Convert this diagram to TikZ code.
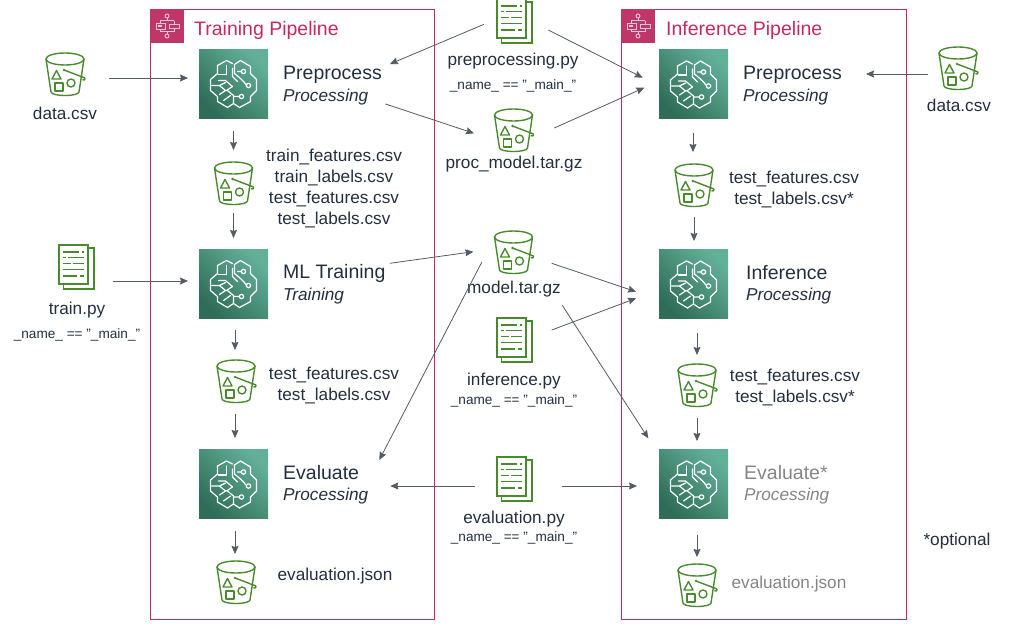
\documentclass[tikz,border=0pt]{standalone}
\usepackage{fontspec}
\setmainfont{Liberation Sans}
\usepackage{xcolor}
\usetikzlibrary{calc,arrows.meta}
\definecolor{frame}{HTML}{C7295F}
\definecolor{pipe}{HTML}{BF3768}
\definecolor{pale}{HTML}{F0C4D4}
\definecolor{bucketgreen}{HTML}{4A8A2E}
\definecolor{darkgreen}{HTML}{2F6D58}
\definecolor{lightgreen}{HTML}{63B098}
\definecolor{ink}{HTML}{232F3E}
\definecolor{faded}{HTML}{858585}
\definecolor{wire}{HTML}{545B64}
\newcommand{\bucketicon}{%
  \begin{scope}[bucketgreen,line width=1.4pt,line join=round]
    \draw (0,-15) ellipse (19 and 6);
    \draw (-19,-15) -- (-14,18) arc[start angle=180,end angle=0,x radius=14,y radius=3.5] -- (19,-15);
    \draw (-13,5) -- (-8.5,-3.5) -- (-4,5) -- cycle;
    \draw (-10,9) rectangle (-2,17);
    \draw (6,9) circle (4);
    \draw (-1,-4) -- (20,4);
    \fill (-1,-4) circle (1.4);
    \draw (20,4) arc[start angle=-30,end angle=150,radius=1.5];
  \end{scope}
}
\newcommand{\scripticon}{%
  \begin{scope}[bucketgreen,line width=1.4pt]
    \draw (11.5,-19) -- (17.5,-19) -- (17.5,22) -- (-13,22) -- (-13,17);
    \draw (-17.5,-22) rectangle (11.5,17);
    \draw (-13.8,-15) -- (2,-15) (5,-15) -- (7,-15);
    \draw (-13.8,-9.3) -- (-11,-9.3) (-8.5,-9.3) -- (7,-9.3);
    \draw (-13.8,-3.3) -- (-6,-3.3) (-3.8,-3.3) -- (7,-3.3);
    \draw (-13.8,2.7) -- (7,2.7);
    \draw (-13.8,9) -- (.5,9) (3.8,9) -- (7,9);
  \end{scope}
}
\newcommand{\brainicon}{%
  \begin{scope}[white,line width=1.2pt,line join=round,line cap=round]
    \draw (1,-10) -- (1,-19) -- (7,-23) -- (17,-17) -- (17,-10) -- (23,-4) -- (23,7) -- (17,13) -- (17,18) -- (6,24) -- (0,20);
    \draw (-1,-20) -- (-7,-23) -- (-16,-18) -- (-16,-10) -- (-23,-4) -- (-23,7) -- (-16,13) -- (-16,18) -- (-6,24) -- (0,20) -- (0,12) -- (-6,7);
    \draw (1,-10) -- (7,-5) -- (11,-1) -- (12.2,1);
    \draw (10,-12) circle (2.2) (7.8,-12) -- (4,-12);
    \draw (15,2) circle (2.2);
    \draw (8,13) circle (2.2) (5.8,13) -- (0,13);
    \draw (-7,-18) -- (-7,-9) -- (-15,-9);
    \draw (-1,-15) -- (-1,-7) -- (4,-2);
    \draw (-15,-3) -- (-8,-3) -- (-1,3) -- (-7,7);
    \draw (-22,2) -- (-14,2) -- (-8,-1);
    \draw (-14,2) -- (-8,7) -- (-14,11);
    \draw (-10,17) -- (-3,12);
  \end{scope}
}
\newcommand{\flowicon}{%
  \begin{scope}[pale,line width=0.9pt]
    \draw (0,-10) circle (2) (0,10) circle (2);
    \draw (0,-8) -- (0,-5.5) (-7,-5.5) -- (7,-5.5) (-7,-5.5) -- (-7,-3) (7,-5.5) -- (7,-2);
    \draw (-11,-3) rectangle (-2,3) (2,-2) rectangle (12,2);
    \draw (-7,3) -- (-7,5.5) -- (7,5.5) -- (7,2) (0,5.5) -- (0,8);
    \fill (-9,-1) rectangle (-5,1);
  \end{scope}
}
\tikzset{
  lab/.style={text=ink, font=\fontsize{17.2}{20}\selectfont, inner sep=0pt, align=center},
  labm/.style={lab, font=\fontsize{13.6}{16}\selectfont},
  stepname/.style={text=ink, font=\fontsize{19.5}{22}\selectfont, inner sep=0pt, anchor=west},
  stepkind/.style={text=ink, font=\fontsize{17.2}{20}\selectfont\itshape, inner sep=0pt, anchor=west},
  box/.style={draw=frame, line width=0.9pt, inner sep=0pt},
  title/.style={text=frame, font=\fontsize{19.5}{22}\selectfont, inner sep=0pt, anchor=west},
  brain/.style={minimum size=69pt, inner sep=0pt, left color=darkgreen, right color=lightgreen, shading angle=135,
    path picture={\begin{scope}[shift={(path picture bounding box.center)}]\brainicon\end{scope}}},
  bucket/.style={minimum width=46pt, minimum height=48pt, inner sep=0pt,
    path picture={\begin{scope}[shift={(path picture bounding box.center)}]\bucketicon\end{scope}}},
  script/.style={minimum width=38pt, minimum height=48pt, inner sep=0pt,
    path picture={\begin{scope}[shift={(path picture bounding box.center)}]\scripticon\end{scope}}},
  flow/.style={minimum size=34pt, inner sep=0pt, fill=pipe,
    path picture={\begin{scope}[shift={(path picture bounding box.center)}]\flowicon\end{scope}}},
  arr/.style={draw=wire, line width=0.8pt, -{Stealth[length=8pt,width=7pt,inset=1pt]}},
}
\begin{document}
\begin{tikzpicture}[x=1pt,y=-1pt]
  \useasboundingbox (0,0) rectangle (1031,629);

  % pipeline frames
  \node[box,minimum width=284pt,minimum height=610pt] (train) at (292,314) {};
  \node[box,minimum width=285pt,minimum height=610pt] (infer) at (763.5,314) {};
  \node[flow] (trainflow) at (167,26) {};
  \node[flow] (inferflow) at (638,26) {};
  \node[title] (traintitle) at (194,30) {Training Pipeline};
  \node[title] (infertitle) at (666,30) {Inference Pipeline};

  % steps
  \foreach \name/\x/\y in {tprep/233.5/83.5,tfit/233.5/283.5,teval/233.5/484,iprep/693.5/84,iinf/693.5/284,ieval/693.5/484}
    \node[brain] (\name) at (\x,\y) {};

  % buckets
  \foreach \name/\x/\y in {dataa/65/74,tfeat/233.5/183,ttest/236/381,tjson/236/582,procm/513.5/130,model/513.5/252,ifeat/694/185,itest/697/385,ijson/697/585,datab/958/68}
    \node[bucket] (\name) at (\x,\y) {};

  % scripts
  \foreach \name/\x/\y in {prepy/514.5/21,trainpy/76.5/267,infpy/514.5/340,evalpy/514.5/479}
    \node[script] (\name) at (\x,\y) {};

  % step labels
  \node[stepname] (tprepa) at (283,75) {Preprocess};
  \node[stepkind] (tprepb) at (283,97) {Processing};
  \node[stepname] (tfita) at (283,273) {ML Training};
  \node[stepkind] (tfitb) at (283,296) {Training};
  \node[stepname] (tevala) at (283,473) {Evaluate};
  \node[stepkind] (tevalb) at (283,496) {Processing};
  \node[stepname] (iprepa) at (743,75) {Preprocess};
  \node[stepkind] (iprepb) at (743,97) {Processing};
  \node[stepname] (iinfa) at (746,273) {Inference};
  \node[stepkind] (iinfb) at (746,296) {Processing};
  \node[stepname,text=faded] (ievala) at (744,473) {Evaluate*};
  \node[stepkind,text=faded] (ievalb) at (744,496) {Processing};

  % file labels
  \node[lab] (ldataa) at (65,113) {data.csv};
  \node[lab] (ldatab) at (959,105) {data.csv};
  \node[lab] (ltfeat) at (334,188) {train\_features.csv\\[1pt]train\_labels.csv\\[1pt]test\_features.csv\\[1pt]test\_labels.csv};
  \node[lab] (lttest) at (334,385) {test\_features.csv\\[1pt]test\_labels.csv};
  \node[lab] (ltjson) at (335,576) {evaluation.json};
  \node[lab] (lprepy) at (513,61) {preprocessing.py};
  \node[labm] (lpremain) at (513,86) {\_name\_ == ”\_main\_”};
  \node[lab] (lprocm) at (514,164) {proc\_model.tar.gz};
  \node[lab] (lmodel) at (514,289) {model.tar.gz};
  \node[lab] (linfpy) at (514,381) {inference.py};
  \node[labm] (linfmain) at (514,401) {\_name\_ == ”\_main\_”};
  \node[lab] (levalpy) at (514,519) {evaluation.py};
  \node[labm] (levalmain) at (514,538) {\_name\_ == ”\_main\_”};
  \node[lab] (ltrainpy) at (77,310) {train.py};
  \node[labm] (ltrainmain) at (77,335) {\_name\_ == ”\_main\_”};
  \node[lab] (lifeat) at (794,189) {test\_features.csv\\[1pt]test\_labels.csv*};
  \node[lab] (litest) at (795,387) {test\_features.csv\\[1pt]test\_labels.csv*};
  \node[lab,text=faded] (lijson) at (789,584) {evaluation.json};
  \node[lab] (optional) at (957,541) {*optional};

  % training column
  \draw[arr] ([shift={(44,4)}]dataa.center) -- ([shift={(-45.5,-5.5)}]tprep.center);
  \draw[arr] ([shift={(0,47.5)}]tprep.center) -- ([shift={(0,-33)}]tfeat.center);
  \draw[arr] ([shift={(0,30)}]tfeat.center) -- ([shift={(0,-45.5)}]tfit.center);
  \draw[arr] ([shift={(36.5,14)}]trainpy.center) -- ([shift={(-45.5,-2.5)}]tfit.center);
  \draw[arr] ([shift={(1.5,46.5)}]tfit.center) -- ([shift={(-1,-31)}]ttest.center);
  \draw[arr] ([shift={(-1,33)}]ttest.center) -- ([shift={(1.5,-46)}]teval.center);
  \draw[arr] ([shift={(1.5,47)}]teval.center) -- ([shift={(-1,-28)}]tjson.center);

  % inference column
  \draw[arr] ([shift={(-30,6)}]datab.center) -- ([shift={(24,-1)}]iprepa.east);
  \draw[arr] ([shift={(-0.5,49)}]iprep.center) -- ([shift={(-1,-33)}]ifeat.center);
  \draw[arr] ([shift={(0,32)}]ifeat.center) -- ([shift={(0.5,-43)}]iinf.center);
  \draw[arr] ([shift={(3.5,49)}]iinf.center) -- ([shift={(0,-30)}]itest.center);
  \draw[arr] ([shift={(0,33)}]itest.center) -- ([shift={(3.5,-43)}]ieval.center);
  \draw[arr] ([shift={(3.5,51)}]ieval.center) -- ([shift={(0,-28)}]ijson.center);

  % across the middle
  \draw[arr] ([shift={(-30.5,3.3)}]prepy.center) -- ([shift={(8,-11)}]tprepa.east);
  \draw[arr] ([shift={(33.8,9)}]prepy.center) -- ([shift={(-50.8,-6.3)}]iprep.center);
  \draw[arr] ([shift={(17,7)}]tprepb.east) -- ([shift={(-39.5,3.3)}]procm.center);
  \draw[arr] ([shift={(40.8,-2)}]procm.center) -- ([shift={(-49.2,3.7)}]iprep.center);
  \draw[arr] ([shift={(4.3,-9.7)}]tfita.east) -- ([shift={(-40.2,-0.3)}]model.center);
  \draw[arr] ([shift={(-31.8,10.3)}]model.center) -- ([shift={(20,-13)}]tevala.east);
  \draw[arr] ([shift={(38.2,11.3)}]model.center) -- ([shift={(-57.5,7.7)}]iinf.center);
  \draw[arr] ([shift={(37.2,-10)}]infpy.center) -- ([shift={(-57.5,14.3)}]iinf.center);
  \draw[arr] ([shift={(48.8,53.3)}]model.center) -- ([shift={(-45.2,-45.7)}]ieval.center);
  \draw[arr] ([shift={(-39.5,7)}]evalpy.center) -- ([shift={(31,13)}]tevala.east);
  \draw[arr] ([shift={(47.5,7)}]evalpy.center) -- ([shift={(-56.5,2)}]ieval.center);
\end{tikzpicture}
\end{document}
